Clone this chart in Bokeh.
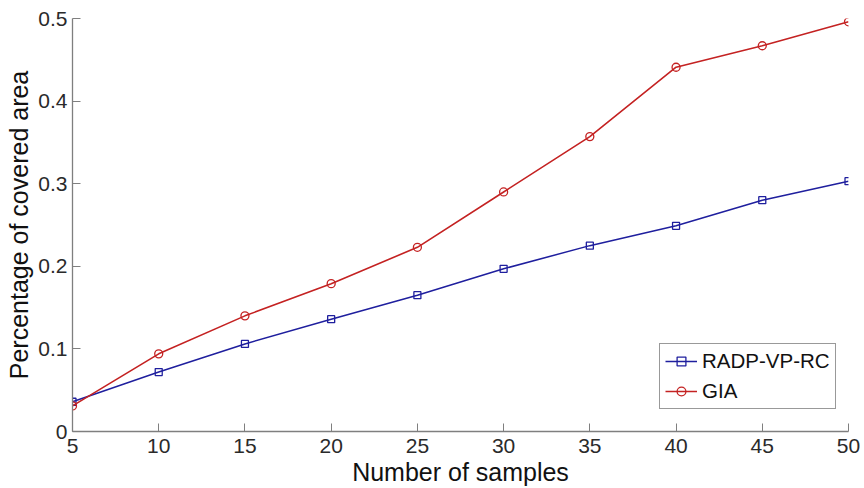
from bokeh.plotting import figure
from bokeh.models import Range1d, FixedTicker, Legend, LegendItem
from bokeh.embed import file_html
from bokeh.resources import INLINE

samples = [5, 10, 15, 20, 25, 30, 35, 40, 45, 50]
radp = [0.036, 0.072, 0.106, 0.136, 0.165, 0.197, 0.225, 0.249, 0.280, 0.303]
gia = [0.031, 0.094, 0.140, 0.179, 0.223, 0.290, 0.357, 0.441, 0.467, 0.496]
x_ticks = [5, 10, 15, 20, 25, 30, 35, 40, 45, 50]
y_ticks = [0, 0.1, 0.2, 0.3, 0.4, 0.5]
y_labels = {0: "0", 0.1: "0.1", 0.2: "0.2", 0.3: "0.3", 0.4: "0.4", 0.5: "0.5"}

FONT = "Liberation Sans"
BLUE = "#1f1f9e"
RED = "#c42222"

p = figure(width=860, height=488, output_backend="svg", toolbar_location=None,
           x_range=Range1d(5, 50), y_range=Range1d(0, 0.5),
           min_border_left=72, min_border_right=12, min_border_top=18, min_border_bottom=56)
p.outline_line_color = None
p.xgrid.grid_line_color = None
p.ygrid.grid_line_color = None

for ax in (p.xaxis[0], p.yaxis[0]):
    ax.axis_line_color = "#7f7f7f"
    ax.axis_line_width = 1.3
    ax.major_tick_line_color = "#7f7f7f"
    ax.major_tick_in = 8
    ax.major_tick_out = 0
    ax.minor_tick_line_color = None
    ax.major_label_text_font = FONT
    ax.major_label_text_font_size = "21px"
    ax.major_label_text_color = "#2a2a2a"
    ax.axis_label_text_font = FONT
    ax.axis_label_text_font_size = "25px"
    ax.axis_label_text_font_style = "normal"
    ax.axis_label_text_color = "#111111"

p.xaxis.ticker = FixedTicker(ticks=x_ticks)
p.yaxis.ticker = FixedTicker(ticks=y_ticks)
p.yaxis.major_label_overrides = y_labels
p.xaxis.major_label_standoff = 7
p.yaxis.major_label_standoff = 5
p.xaxis.axis_label = "Number of samples"
p.yaxis.axis_label = "Percentage of covered area"
p.xaxis.axis_label_standoff = 2
p.yaxis.axis_label_standoff = 2

r1 = p.line(samples, radp, line_color=BLUE, line_width=1.5)
s1 = p.scatter(samples, radp, marker="square", size=7, line_color=BLUE, fill_alpha=0, line_width=1.3)
r2 = p.line(samples, gia, line_color=RED, line_width=1.6)
s2 = p.scatter(samples, gia, marker="circle", size=8, line_color=RED, fill_alpha=0, line_width=1.3)

legend = Legend(items=[LegendItem(label="RADP-VP-RC", renderers=[r1, s1]),
                       LegendItem(label="GIA", renderers=[r2, s2])],
                location=(587, 22))
legend.border_line_color = "#333333"
legend.border_line_width = 1
legend.label_text_font = FONT
legend.label_text_font_size = "20.5px"
legend.label_text_color = "#111111"
legend.glyph_width = 32
legend.glyph_height = 22
legend.label_height = 22
legend.spacing = 6
legend.padding = 5
legend.margin = 0
legend.label_standoff = 5
legend.background_fill_alpha = 1
p.add_layout(legend, "center")

open("out.html", "w").write(file_html(p, INLINE))
